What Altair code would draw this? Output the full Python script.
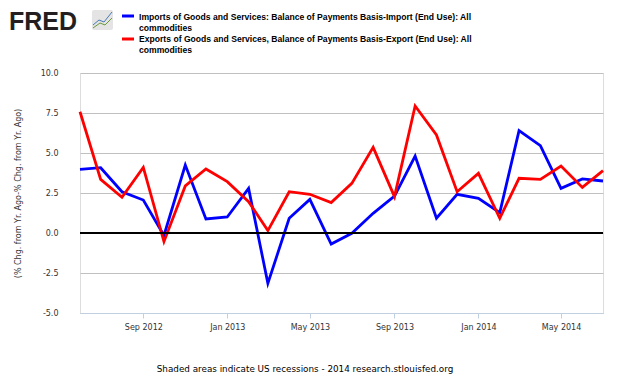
import altair as alt
import pandas as pd

months = pd.date_range("2012-06-01", "2014-07-01", freq="MS").strftime("%Y-%m-%d").tolist()
imports = [3.98, 4.08, 2.58, 2.06, -0.15, 4.25, 0.88, 1.0, 2.79, -3.15, 0.92, 2.1, -0.69,
           -0.02, 1.23, 2.31, 4.81, 0.92, 2.42, 2.17, 1.27, 6.4, 5.46, 2.79, 3.38, 3.25]
exports = [7.58, 3.35, 2.23, 4.1, -0.54, 2.94, 4.0, 3.21, 1.96, 0.15, 2.58, 2.42, 1.9,
           3.1, 5.35, 2.27, 7.94, 6.13, 2.58, 3.73, 0.92, 3.42, 3.35, 4.19, 2.85, 3.9]
series_names = ["Imports", "Exports"]
series_colors = ["#0000ff", "#ff0000"]
legend_lines = [
    "Imports of Goods and Services: Balance of Payments Basis-Import (End Use): All",
    "commodities",
    "Exports of Goods and Services, Balance of Payments Basis-Export (End Use): All",
    "commodities",
]
y_ticks = [-5.0, -2.5, 0.0, 2.5, 5.0, 7.5, 10.0]
x_tick_dates = ["2012-09-01", "2013-01-01", "2013-05-01", "2013-09-01", "2014-01-01", "2014-05-01"]

df = pd.DataFrame({
    "date": months * 2,
    "value": imports + exports,
    "series": [series_names[0]] * len(months) + [series_names[1]] * len(months),
})

FONT = "DejaVu Sans"
W, H = 523, 240

x_vals = [alt.DateTime(year=int(d[:4]), month=int(d[5:7]), date=1, utc=True) for d in x_tick_dates]
y_scale = alt.Scale(domain=[-5, 10], nice=False, zero=False)

x_enc = alt.X(
    "date:T",
    scale=alt.Scale(type="utc", domain=[alt.DateTime(year=2012, month=6, date=1, utc=True),
                                        alt.DateTime(year=2014, month=7, date=1, utc=True)]),
    axis=alt.Axis(
        values=x_vals, labelExpr="utcFormat(datum.value, '%b %Y')", title=None,
        grid=False, domainColor="#c0d0e0", tickColor="#c0d0e0", tickSize=5,
        labelColor="#333333", labelFont=FONT, labelFontSize=8, labelPadding=5,
        labelFlush=False, labelOverlap=False,
    ),
)
y_axis = alt.Axis(
    values=y_ticks, labelExpr="replace(format(datum.value, '.1f'), '\u2212', '-')",
    title="(% Chg. from Yr. Ago-% Chg. from Yr. Ago)",
    titleFont=FONT, titleFontSize=8, titleFontWeight="normal", titleColor="#333333",
    titlePadding=18, domain=False, ticks=False, gridColor="#c0c0c0", gridWidth=1,
    labelColor="#333333", labelFont=FONT, labelFontSize=8, labelPadding=22,
    labelOverlap=False,
)

lines = alt.Chart(df).mark_line(strokeWidth=2.8).encode(
    x=x_enc, y=alt.Y("value:Q", scale=y_scale, axis=y_axis),
    color=alt.Color("series:N", scale=alt.Scale(domain=series_names, range=series_colors), legend=None),
    detail="series:N",
)

zero = alt.Chart(alt.Data(values=[{"value": 0}])).mark_rule(color="black", strokeWidth=2).encode(
    y=alt.Y("value:Q", scale=y_scale, axis=y_axis),
    x=alt.value(0), x2=alt.value(W),
)

one = alt.Data(values=[{}])
deco = []
# legend swatches
for yy, col in [(-57, series_colors[0]), (-34, series_colors[1])]:
    deco.append(alt.Chart(one).mark_rule(color=col, strokeWidth=3).encode(
        x=alt.value(42), x2=alt.value(54), y=alt.value(yy)))
# legend texts
for yy, txt in zip([-56, -45.5, -34, -23.5], legend_lines):
    deco.append(alt.Chart(one).mark_text(
        text=txt, align="left", baseline="middle", font="Liberation Sans", fontSize=8.6,
        fontWeight="bold", color="#000000").encode(x=alt.value(59), y=alt.value(yy)))
# FRED logo
deco.append(alt.Chart(one).mark_text(
    text="FRED", align="left", baseline="alphabetic", font="Liberation Sans", fontSize=25,
    fontWeight="bold", color="#231f20").encode(x=alt.value(-71), y=alt.value(-43)))
deco.append(alt.Chart(one).mark_rect(color="#e4e4e4", cornerRadius=2).encode(
    x=alt.value(12), x2=alt.value(33), y=alt.value(-63), y2=alt.value(-43)))
for (x1, y1, x2, y2, c) in [(13, -48, 19, -53, "#4a7ab5"), (19, -53, 24, -51, "#4a7ab5"),
                            (24, -51, 32, -61, "#4a7ab5"), (13, -45, 20, -50, "#6a9a3a"),
                            (20, -50, 25, -48, "#6a9a3a"), (25, -48, 32, -55, "#6a9a3a")]:
    deco.append(alt.Chart(one).mark_rule(color=c, strokeWidth=1).encode(
        x=alt.value(x1), x2=alt.value(x2), y=alt.value(y1), y2=alt.value(y2)))
# footer
deco.append(alt.Chart(one).mark_text(
    text="Shaded areas indicate US recessions - 2014 research.stlouisfed.org",
    align="center", baseline="middle", font=FONT, fontSize=8.8, color="#000000").encode(
    x=alt.value(225), y=alt.value(296)))

chart = alt.layer(lines, zero, *deco).properties(
    width=W, height=H,
    autosize=alt.AutoSizeParams(type="none"),
    padding={"left": 72, "top": 65, "right": 19, "bottom": 65},
).configure_view(stroke=None).configure(background="white")

chart.save("out.html", embed_options={"renderer": "svg", "actions": False})
